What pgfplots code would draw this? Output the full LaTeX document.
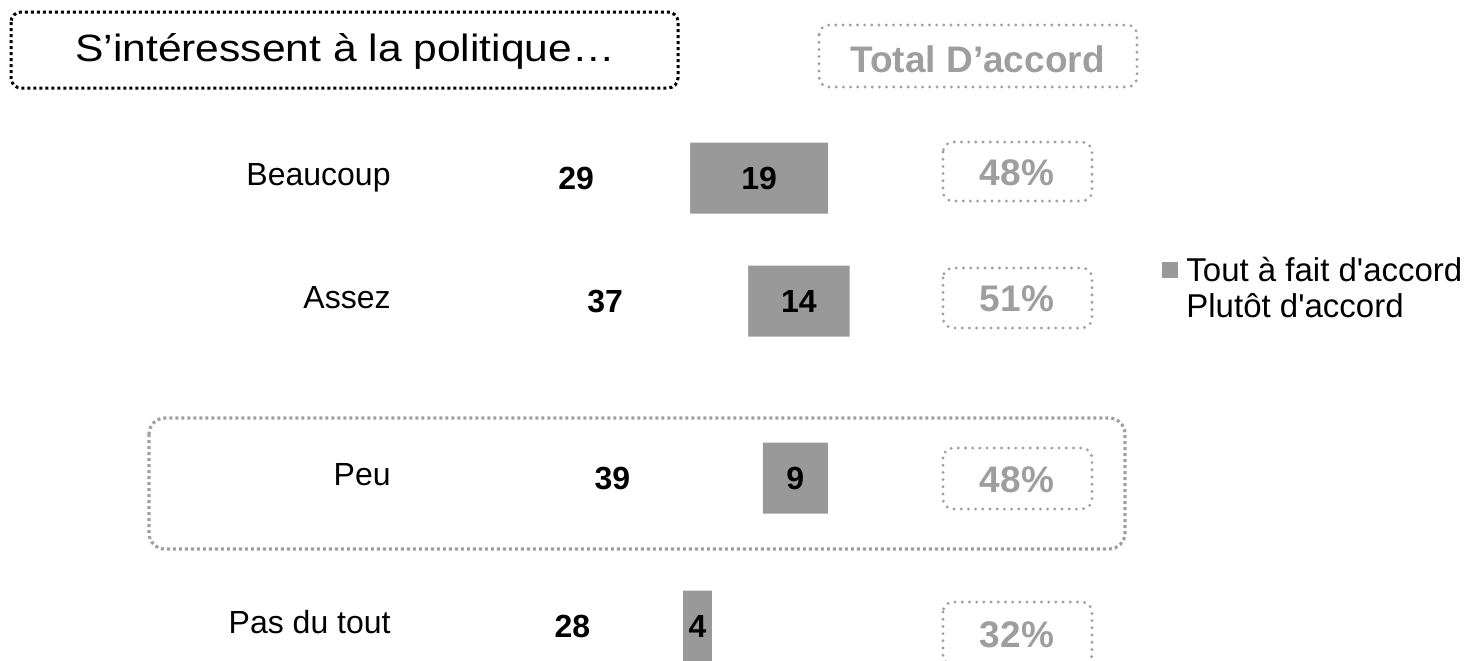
\documentclass[border=0pt]{standalone}
\usepackage{fontspec}
\setmainfont{Liberation Sans}
\usepackage{pgfplots}
\pgfplotsset{compat=1.18}
\usepackage{pgfplotstable}
\definecolor{barGray}{RGB}{153,153,153}
\definecolor{txtGray}{RGB}{158,158,158}
\definecolor{dotGray}{RGB}{160,160,160}

\pgfplotstableread{
pos plutot tout
178 29 19
301 37 14
478 39 9
626 28 4
}\data

\begin{document}
\begin{tikzpicture}
\begin{axis}[
  scale only axis, width=733pt, height=330pt,
  at={(0pt,0pt)}, anchor=north west,
  /pgf/number format/assume math mode=true,
  xbar stacked, bar width=71,
  xmin=-66.2, xmax=136, ymin=0, ymax=660, y dir=reverse,
  axis line style={draw=none}, tick style={draw=none},
  xtick=\empty,
  ytick={178,301,478,626},
  yticklabels={Beaucoup,Assez,Peu,Pas du tout},
  yticklabel style={anchor=east, inner sep=0pt, xshift=195.5pt, yshift=2pt,
    font=\fontsize{16}{19}\selectfont, text height=11.4pt, text depth=0pt},
  reverse legend,
  legend style={at={(axis cs:94.0,288)}, anchor=west, draw=none, fill=none,
    inner sep=0pt, font=\fontsize{16.5}{19.5}\selectfont, row sep=6.2pt,
    nodes={inner xsep=2.25pt, inner ysep=0pt, text height=11.8pt, text depth=0pt},
    cells={anchor=west}},
]
\addplot[fill=white, draw=none,
  nodes near coords, point meta=explicit,
  every node near coord/.append style={anchor=center, xshift=-4.5pt,
    inner sep=0pt, text height=11.4pt, text depth=0pt, black,
    font=\bfseries\fontsize{16}{19}\selectfont},
  legend image code/.code={\path (0pt,-4pt) rectangle (10pt,4pt);}]
  table[x=plutot, y=pos, meta=plutot] {\data};
\addlegendentry{Plutôt d\textquotesingle accord}
\addplot[fill=barGray, draw=none,
  nodes near coords, point meta=explicit,
  every node near coord/.append style={anchor=center,
    inner sep=0pt, text height=11.4pt, text depth=0pt, black,
    font=\bfseries\fontsize{16}{19}\selectfont},
  legend image code/.code={\fill[barGray] (0pt,-4pt) rectangle (8pt,4pt); \path (0pt,0pt) -- (10pt,0pt);}]
  table[x=tout, y=pos, meta=tout] {\data};
\addlegendentry{Tout à fait d\textquotesingle accord}
\end{axis}
\begin{scope}[x=0.5pt, y=-0.5pt]
  % title
  \draw[black, line width=1.5pt, dash pattern=on 1.5pt off 1.5pt, rounded corners=5pt]
    (11,12) rectangle (678,88);
  \node[anchor=base, inner sep=0pt] at (345,61)
    {\scalebox{1.12}[1]{\fontsize{19}{23}\selectfont S’intéressent à la politique…}};
  % total header
  \draw[dotGray, line width=1.6pt, line cap=round, dash pattern=on 0pt off 3.6pt, rounded corners=5pt]
    (819,25) rectangle (1137,87);
  \node[anchor=base, inner sep=0pt, txtGray] at (977.5,72)
    {\bfseries\fontsize{18.5}{22}\selectfont Total D’accord};
  % Peu highlight
  \draw[dotGray, line width=1.6pt, dash pattern=on 1.5pt off 1.5pt, rounded corners=8pt]
    (149,418) rectangle (1125,549);
  % totals
  \foreach \yt/\yb/\bl/\t in {142/201/185/48\%, 268/328/311/51\%, 448/509/492/48\%, 602/665/647/32\%}{
    \draw[dotGray, line width=1.6pt, line cap=round, dash pattern=on 0pt off 3.6pt, rounded corners=5pt]
      (943,\yt) rectangle (1092,\yb);
    \node[anchor=base, inner sep=0pt, txtGray] at (1017,\bl)
      {\bfseries\fontsize{18.5}{22}\selectfont \t};
  }
\end{scope}
\pgfresetboundingbox
\path[use as bounding box] (0pt,0pt) rectangle (733pt,-330pt);
\end{tikzpicture}
\end{document}
